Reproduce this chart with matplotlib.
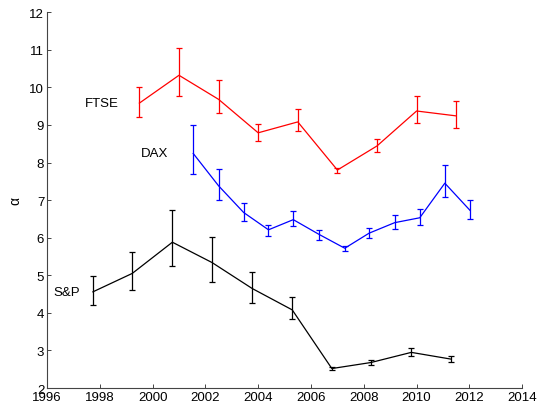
import numpy as np
import matplotlib
matplotlib.use('Agg')
import matplotlib.pyplot as plt

plt.rcParams['font.family'] = ['Liberation Sans', 'DejaVu Sans']

# FTSE
ftse_x = [1999.5, 2001.0, 2002.5, 2004.0, 2005.5, 2007.0, 2008.5, 2010.0, 2011.5]
ftse_y = [9.58, 10.32, 9.68, 8.79, 9.08, 7.80, 8.44, 9.37, 9.24]
ftse_lo = [9.21, 9.78, 9.31, 8.57, 8.83, 7.72, 8.28, 9.04, 8.93]
ftse_hi = [10.02, 11.05, 10.19, 9.03, 9.42, 7.86, 8.63, 9.77, 9.64]

# DAX
dax_x = [2001.54, 2002.5, 2003.45, 2004.39, 2005.33, 2006.3, 2007.28, 2008.2,
         2009.17, 2010.12, 2011.07, 2012.02]
dax_y = [8.24, 7.38, 6.67, 6.21, 6.48, 6.09, 5.72, 6.12, 6.40, 6.53, 7.45, 6.73]
dax_lo = [7.69, 7.00, 6.44, 6.05, 6.30, 5.95, 5.64, 5.99, 6.22, 6.33, 7.07, 6.49]
dax_hi = [9.01, 7.83, 6.93, 6.35, 6.71, 6.21, 5.78, 6.26, 6.61, 6.77, 7.94, 6.99]

# S&P
sp_x = [1997.74, 1999.23, 2000.75, 2002.25, 2003.77, 2005.29, 2006.79, 2008.27,
        2009.8, 2011.31]
sp_y = [4.56, 5.05, 5.88, 5.34, 4.65, 4.08, 2.52, 2.68, 2.95, 2.77]
sp_lo = [4.21, 4.61, 5.24, 4.81, 4.26, 3.83, 2.48, 2.61, 2.86, 2.69]
sp_hi = [4.99, 5.63, 6.73, 6.02, 5.10, 4.43, 2.57, 2.74, 3.06, 2.85]

series = [
    ('FTSE', ftse_x, ftse_y, ftse_lo, ftse_hi, '#ff0000', (1997.44, 9.58)),
    ('DAX', dax_x, dax_y, dax_lo, dax_hi, '#0000ff', (1999.54, 8.25)),
    ('S&P', sp_x, sp_y, sp_lo, sp_hi, '#000000', (1996.23, 4.55)),
]

fig = plt.figure(figsize=(5.4, 4.1), dpi=100)
ax = fig.add_axes([0.087, 0.051, 0.88, 0.917])

for name, x, y, lo, hi, col, pos in series:
    y = np.array(y)
    yerr = [y - np.array(lo), np.array(hi) - y]
    ax.errorbar(x, y, yerr=yerr, color=col, lw=0.9, elinewidth=0.9,
                capsize=2.5, capthick=0.9)
    ax.text(pos[0], pos[1], name, fontsize=9.5, va='center', ha='left')

ax.set_xlim(1996, 2014)
ax.set_ylim(2, 12)
ax.set_xticks(np.arange(1996, 2015, 2))
ax.set_yticks(np.arange(2, 13, 1))
ax.set_ylabel('α', fontsize=10, labelpad=5)
ax.spines['top'].set_visible(False)
ax.spines['right'].set_visible(False)
ax.tick_params(direction='in', labelsize=9.5, length=3, width=0.7,
               color='#444444', pad=2)
for s in ['left', 'bottom']:
    ax.spines[s].set_linewidth(0.8)
    ax.spines[s].set_color('#444444')

fig.savefig('out.png', dpi=100)
